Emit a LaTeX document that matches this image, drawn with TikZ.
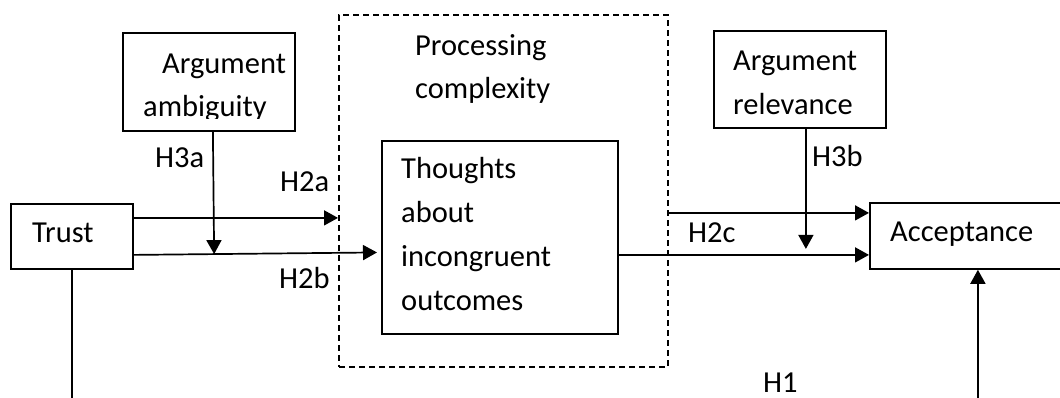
\documentclass[tikz,border=0pt]{standalone}
\usepackage{fontspec}
\setmainfont{Carlito}
\usetikzlibrary{arrows.meta,calc}
\tikzset{
  box/.style={draw,line width=1.8pt,inner sep=0pt,anchor=north west},
  txt/.style={anchor=base west,inner sep=0pt,align=left,font=\fontsize{30.5}{43.7}\selectfont},
  link/.style={line width=1.7pt,-{Triangle[length=14pt,width=15pt]}}
}
\begin{document}
\begin{tikzpicture}[x=1pt,y=-1pt]
            \useasboundingbox (0,0) rectangle (1060,398);
            % boxes
            \node[box,dash pattern=on 6pt off 4pt,line width=1.6pt,minimum width=329pt,minimum height=352pt] (proc) at (338,14) {};
            \node[box,minimum width=122pt,minimum height=65pt] (trust) at (10,203) {};
            \node[box,minimum width=172pt,minimum height=98pt] (ambig) at (122,32) {};
            \node[box,minimum width=172pt,minimum height=97pt] (relev) at (713,30) {};
            \node[box,minimum width=236pt,minimum height=193pt] (thoughts) at (381,140) {};
            \node[box,minimum width=216pt,minimum height=66pt] (accept) at (869,202) {};
            % texts (placed at the baseline of their last line)
            \node[txt] (trusttxt) at (32,243) {Trust};
            \begin{scope}
                \clip (124,34) rectangle (292,119);
                \node[txt] (ambigtxt) at (143,117) {\hspace*{19pt}Argument\\ambiguity};
            \end{scope}
            \node[txt] (relevtxt) at (733,114.5) {Argument\\relevance};
            \node[txt] (proctxt) at (415,99) {Processing\\complexity};
            \node[txt] (thoughtstxt) at (401,310) {Thoughts\\about\\incongruent\\outcomes};
            \node[txt] (accepttxt) at (890,241) {Acceptance};
            % hypotheses
            \node[txt] (h3a) at (155,168) {H3a};
            \node[txt] (h2a) at (280,192) {H2a};
            \node[txt] (h2b) at (279,288) {H2b};
            \node[txt] (h3b) at (812,167) {H3b};
            \node[txt] (h2c) at (688,243) {H2c};
            \node[txt] (h1) at (763,392) {H1};
            % links
            \coordinate (a1) at ([yshift=18.5pt]trust.east);
            \coordinate (b1) at ([yshift=-18.5pt]trust.east);
            \coordinate (b2) at ([yshift=-15pt]thoughts.west);
            \coordinate (a3) at ([xshift=4pt]ambig.south);
            \coordinate (c1) at ([yshift=23pt]accept.west);
            \coordinate (d1) at ([yshift=-19pt]accept.west);
            \coordinate (e1) at ([xshift=6pt]relev.south);
            \draw[link] (a1) -- (a1 -| proc.west);
            \draw[link,shorten >=4pt] (b1) -- (b2);
            \draw[link] (a3) -- ($(b1)!(a3)!(b2)$);
            \draw[link] (c1 -| proc.east) -- (c1);
            \draw[link] (d1 -| thoughts.east) -- (d1);
            \draw[link,shorten >=6pt] (e1) -- (e1 |- d1);
            \draw[link] (trust.south) -- ++(0,160) -| (accept.south);
        \end{tikzpicture}
\end{document}
